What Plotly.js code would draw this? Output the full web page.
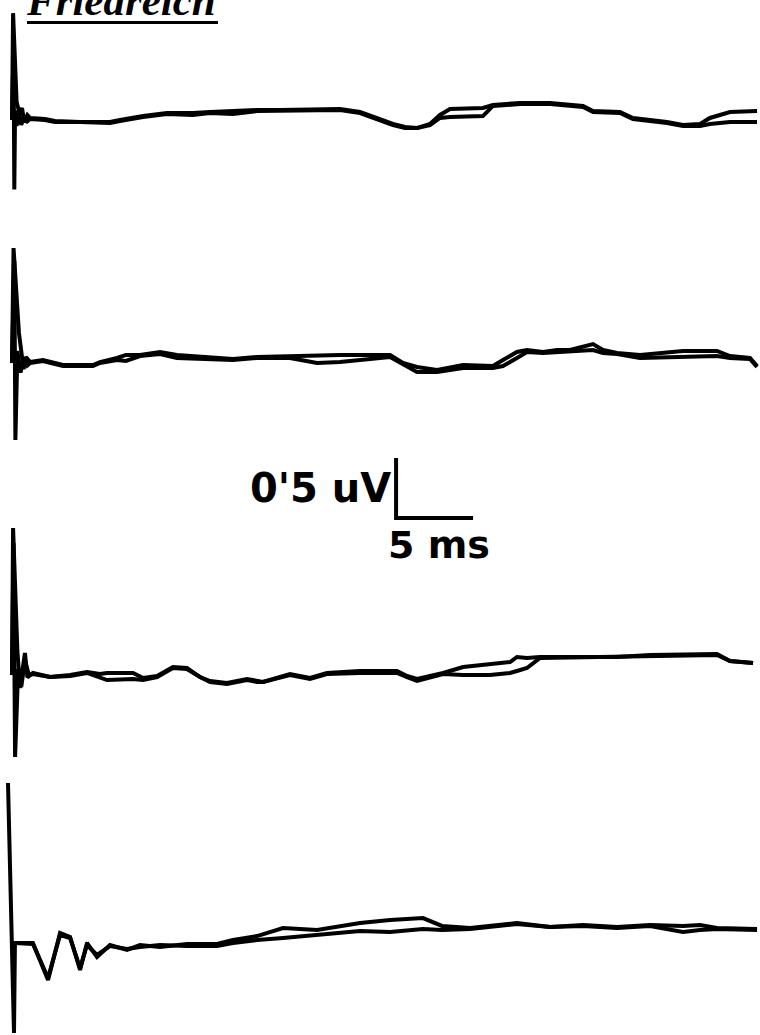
<!DOCTYPE html>
<html>
<head>
<meta charset="utf-8">
<script src="https://cdn.plot.ly/plotly-3.0.1.min.js"></script>
<style>html,body{margin:0;padding:0;background:#fff;}#chart{width:760px;height:1035px;}</style>
</head>
<body>
<div id="chart"></div>
<script>
// ---- Data (time in ms, amplitude in µV, relative to each trace's baseline) ----
// Panel 1
const p1SpikeTA = [0, 0.07, 0.3, 0.5, 0.65, 0.8, 1.0];
const p1SpikeVA = [0, 0.89, 0.15, 0.05, 0.1, -0.02, 0.04];
const p1SpikeTB = [0, 0.1, 0.15, 0.2, 0.3, 0.45, 0.6, 0.8, 1.0];
const p1SpikeVB = [0, 0.6, -0.58, 0.08, -0.05, 0.06, -0.04, 0.03, -0.01];
const p1Time = [1.17, 2.14, 2.79, 4.42, 6.36, 7.01, 8.51, 10.06, 11.75, 12.86, 14.35, 15.91, 17.40, 21.30, 22.60, 23.90, 24.74, 25.52, 26.30, 27.14, 27.79, 28.44, 30.58, 31.23, 32.99, 34.94, 37.08, 37.73, 39.48, 40.32, 42.53, 43.57, 44.68, 45.32, 46.62, 48.38];
const p1A = [0.017, 0.008, -0.008, -0.017, -0.017, 0, 0.033, 0.058, 0.058, 0.067, 0.075, 0.083, 0.083, 0.092, 0.067, 0.008, -0.033, -0.058, -0.067, -0.033, 0.042, 0.092, 0.1, 0.125, 0.142, 0.142, 0.117, 0.075, 0.067, 0.017, -0.017, -0.042, -0.033, 0.017, 0.067, 0.075];
const p1B = [0.008, 0, -0.017, -0.017, -0.025, -0.008, 0.025, 0.05, 0.042, 0.058, 0.05, 0.075, 0.075, 0.083, 0.058, 0, -0.042, -0.067, -0.067, -0.042, 0.017, 0.025, 0.033, 0.117, 0.133, 0.133, 0.108, 0.067, 0.058, 0.008, -0.025, -0.05, -0.05, -0.033, -0.017, -0.017];

// Panel 2
const p2SpikeTA = [0, 0.1, 0.45, 0.6, 0.75, 0.9];
const p2SpikeVA = [0, 0.958, 0.25, 0.1, -0.05, 0.05];
const p2SpikeTB = [0, 0.15, 0.22, 0.35, 0.55, 0.8, 1.0];
const p2SpikeVB = [0, 0.85, -0.642, 0.1, -0.08, 0.04, -0.02];
const p2Time = [1.17, 2.01, 3.31, 5.26, 5.71, 6.82, 7.40, 8.31, 9.61, 10.71, 12.21, 14.35, 15.91, 18.05, 19.81, 21.30, 24.55, 25.39, 26.30, 27.60, 29.29, 31.23, 31.88, 32.79, 33.44, 34.48, 35.39, 36.23, 37.73, 38.38, 39.29, 40.78, 43.57, 45.78, 46.62, 47.92, 48.38];
const p2A = [0.008, 0.025, -0.017, -0.017, 0.008, 0.042, 0.067, 0.067, 0.092, 0.067, 0.05, 0.033, 0.05, 0.058, 0.067, 0.067, 0.067, 0, -0.033, -0.058, -0.017, -0.025, 0.025, 0.092, 0.108, 0.092, 0.108, 0.108, 0.158, 0.108, 0.083, 0.067, 0.1, 0.1, 0.058, 0.042, -0.025];
const p2B = [0, 0.017, -0.025, -0.025, 0, 0.025, 0.017, 0.058, 0.075, 0.042, 0.033, 0.025, 0.042, 0.042, 0, 0.008, 0.05, -0.008, -0.075, -0.075, -0.042, -0.042, -0.025, 0.042, 0.092, 0.083, 0.092, 0.1, 0.108, 0.083, 0.075, 0.042, 0.05, 0.058, 0.042, 0.033, -0.033];

// Panel 3
const p3SpikeTA = [0, 0.07, 0.35, 0.52, 0.84, 1.0];
const p3SpikeVA = [0, 1.225, 0.2, -0.108, 0.183, -0.02];
const p3SpikeTB = [0, 0.1, 0.2, 0.4, 0.6, 0.84, 1.1];
const p3SpikeVB = [0, 1.1, -0.683, 0.05, -0.1, 0.12, 0];
const p3Time = [1.36, 2.47, 3.77, 4.87, 5.71, 6.17, 7.86, 8.51, 9.42, 10.45, 11.36, 12.21, 12.86, 13.96, 15.26, 15.91, 16.30, 18.05, 19.35, 20.45, 22.60, 25.00, 25.65, 26.30, 27.99, 29.29, 31.04, 32.34, 32.79, 33.44, 34.29, 39.29, 41.43, 45.78, 46.62, 48.12];
const p3A = [0.017, -0.017, 0, 0.025, 0.008, 0.017, 0.017, -0.025, -0.008, 0.067, 0.058, -0.017, -0.05, -0.067, -0.033, -0.05, -0.058, 0.008, -0.025, 0.017, 0.033, 0.033, -0.008, -0.033, 0.017, 0.067, 0.092, 0.108, 0.15, 0.142, 0.15, 0.15, 0.167, 0.175, 0.117, 0.1];
const p3B = [0.008, -0.017, -0.008, 0.017, -0.025, -0.042, -0.033, -0.042, -0.017, 0.058, 0.05, -0.017, -0.058, -0.075, -0.042, -0.058, -0.058, 0, -0.033, 0.008, 0.017, 0.017, -0.017, -0.05, 0.008, 0, 0, 0.017, 0.033, 0.058, 0.142, 0.15, 0.158, 0.167, 0.117, 0.1];

// Panel 4
const p4SpikeTA = [-0.26, 0.13];
const p4SpikeVA = [1.308, -0.775];
const p4SpikeTB = [];
const p4SpikeVB = [];
const p4Time = [0.19, 1.36, 2.34, 3.12, 3.77, 4.42, 4.87, 5.52, 6.36, 7.47, 8.31, 9.61, 11.36, 13.31, 14.35, 15.91, 17.60, 19.81, 22.60, 24.55, 26.69, 27.92, 29.74, 32.79, 34.94, 37.08, 39.29, 41.43, 43.57, 44.68, 45.78, 48.38];
const p4A = [-0.025, -0.025, -0.333, 0.058, 0.025, -0.25, -0.025, -0.142, -0.042, -0.083, -0.042, -0.058, -0.033, -0.033, 0, 0.033, 0.1, 0.083, 0.142, 0.167, 0.183, 0.117, 0.1, 0.142, 0.108, 0.125, 0.108, 0.125, 0.117, 0.125, 0.1, 0.092];
const p4B = [-0.025, -0.033, -0.317, 0.042, 0.017, -0.233, -0.042, -0.125, -0.05, -0.075, -0.058, -0.042, -0.05, -0.05, -0.025, 0, 0.017, 0.042, 0.075, 0.067, 0.092, 0.083, 0.092, 0.133, 0.108, 0.117, 0.1, 0.117, 0.067, 0.083, 0.092, 0.083];

// Calibration bar: 5 ms, 0.5 µV
const calTime = [0, 0, 5];
const calAmp = [0.5, 0, 0];
const calStart = 24.94;
const titleText = "Friedreich";
const ampLabel = "0'5 uV";
const timeLabel = "5 ms";

// ---- Layout geometry (pixels) ----
const W = 760, H = 1035;
const MS_PX = 15.4, UV_PX = 120, X0_PX = 12;
const panels = [
  {top: 0, bottom: 230, base: 120},
  {top: 235, bottom: 450, base: 363},
  {top: 520, bottom: 770, base: 675},
  {top: 775, bottom: 1035, base: 940}
];
const calPanel = {top: 450, bottom: 530, base: 518};
const py = v => 1 - v / H;
const pxp = v => v / W;

const layout = {
  width: W, height: H,
  margin: {l: 0, r: 0, t: 0, b: 0, pad: 0},
  paper_bgcolor: '#ffffff', plot_bgcolor: 'rgba(0,0,0,0)',
  showlegend: false,
  xaxis: {range: [-X0_PX / MS_PX, (W - X0_PX) / MS_PX], visible: false, showgrid: false, zeroline: false, fixedrange: true},
  annotations: [], shapes: []
};
function axisFor(p) {
  return {
    domain: [py(p.bottom), py(p.top)],
    range: [(p.base - p.bottom) / UV_PX, (p.base - p.top) / UV_PX],
    visible: false, showgrid: false, zeroline: false, anchor: 'x', fixedrange: true
  };
}
panels.forEach((p, i) => { layout['yaxis' + (i === 0 ? '' : (i + 1))] = axisFor(p); });
layout.yaxis5 = axisFor(calPanel);

const sets = [
  [p1SpikeTA, p1SpikeVA, p1SpikeTB, p1SpikeVB, p1Time, p1A, p1B],
  [p2SpikeTA, p2SpikeVA, p2SpikeTB, p2SpikeVB, p2Time, p2A, p2B],
  [p3SpikeTA, p3SpikeVA, p3SpikeTB, p3SpikeVB, p3Time, p3A, p3B],
  [p4SpikeTA, p4SpikeVA, p4SpikeTB, p4SpikeVB, p4Time, p4A, p4B]
];
const traces = [];
sets.forEach((s, i) => {
  const ya = 'y' + (i === 0 ? '' : (i + 1));
  const line = {color: '#000000', width: 4, shape: 'linear'};
  traces.push({x: s[0].concat(s[4]), y: s[1].concat(s[5]), xaxis: 'x', yaxis: ya, mode: 'lines', line: line, hoverinfo: 'skip'});
  traces.push({x: s[2].concat(s[4]), y: s[3].concat(s[6]), xaxis: 'x', yaxis: ya, mode: 'lines', line: line, hoverinfo: 'skip'});
});
traces.push({x: calTime.map(t => t + calStart), y: calAmp, xaxis: 'x', yaxis: 'y5', mode: 'lines',
  line: {color: '#000000', width: 4}, hoverinfo: 'skip'});

layout.annotations.push({
  text: titleText, xref: 'paper', yref: 'paper', x: pxp(24), y: py(26), xanchor: 'left', yanchor: 'bottom',
  showarrow: false, font: {family: 'Liberation Serif', size: 43, color: '#000', weight: 'bold', style: 'italic'}
});
layout.shapes.push({type: 'line', xref: 'paper', yref: 'paper', x0: pxp(27), x1: pxp(218), y0: py(22.5), y1: py(22.5),
  line: {color: '#000', width: 3}});
layout.annotations.push({
  text: ampLabel, xref: 'paper', yref: 'paper', x: pxp(393), y: py(488), xanchor: 'right', yanchor: 'middle',
  showarrow: false, font: {family: 'DejaVu Sans', size: 40, color: '#000', weight: 'bold'}
});
layout.annotations.push({
  text: timeLabel, xref: 'paper', yref: 'paper', x: pxp(439), y: py(545), xanchor: 'center', yanchor: 'middle',
  showarrow: false, font: {family: 'DejaVu Sans', size: 38, color: '#000', weight: 'bold'}
});

Plotly.newPlot('chart', traces, layout, {staticPlot: true, displayModeBar: false});
</script>
</body>
</html>
